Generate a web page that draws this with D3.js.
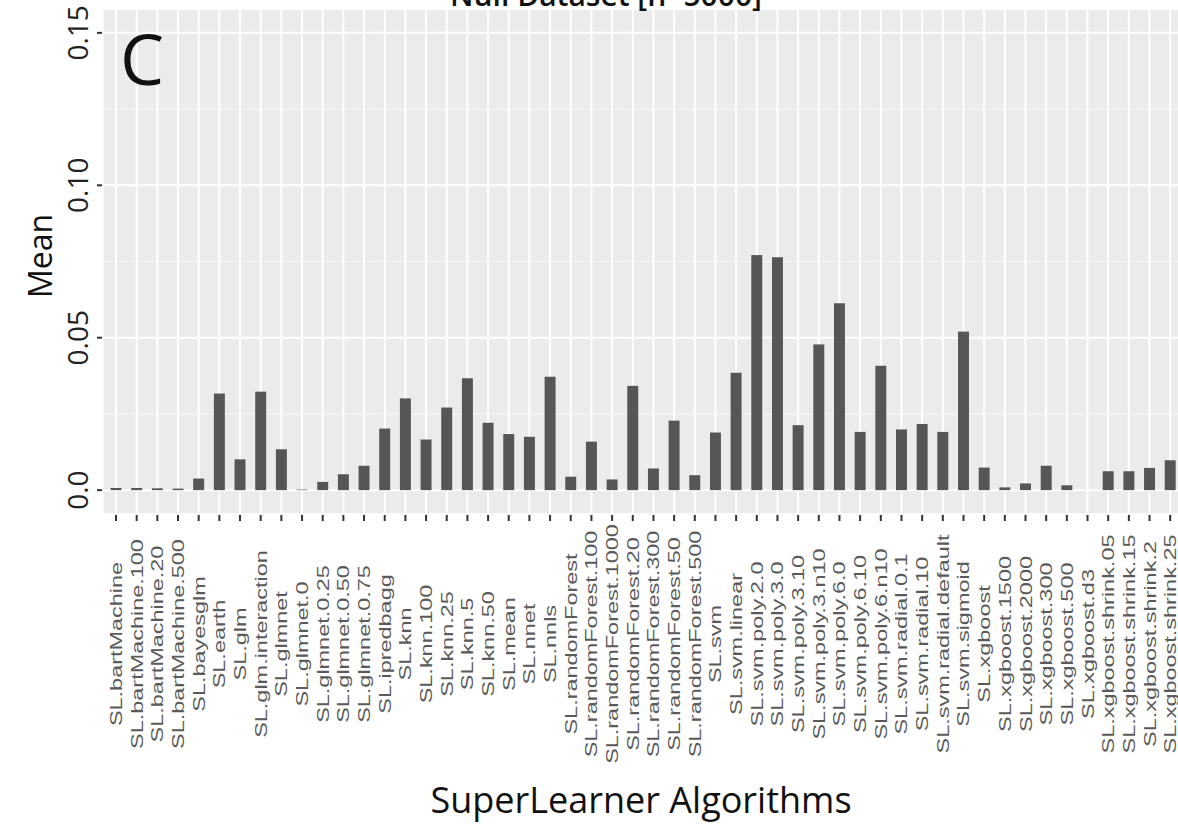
<!DOCTYPE html>
<html>
<head>
<meta charset="utf-8">
<script src="https://cdn.jsdelivr.net/npm/d3@7"></script>
<style>
  html, body { margin: 0; padding: 0; background: #ffffff; }
  svg { display: block; }
</style>
</head>
<body>
<svg id="chart" width="1178" height="825"></svg>
<script>
// Mean value per SuperLearner algorithm (Null dataset, n = 5000)
const algorithms = [
  "SL.bartMachine", "SL.bartMachine.100", "SL.bartMachine.20", "SL.bartMachine.500",
  "SL.bayesglm", "SL.earth", "SL.glm", "SL.glm.interaction", "SL.glmnet",
  "SL.glmnet.0", "SL.glmnet.0.25", "SL.glmnet.0.50", "SL.glmnet.0.75", "SL.ipredbagg",
  "SL.knn", "SL.knn.100", "SL.knn.25", "SL.knn.5", "SL.knn.50", "SL.mean", "SL.nnet",
  "SL.nnls", "SL.randomForest", "SL.randomForest.100", "SL.randomForest.1000",
  "SL.randomForest.20", "SL.randomForest.300", "SL.randomForest.50", "SL.randomForest.500",
  "SL.svm", "SL.svm.linear", "SL.svm.poly.2.0", "SL.svm.poly.3.0", "SL.svm.poly.3.10",
  "SL.svm.poly.3.n10", "SL.svm.poly.6.0", "SL.svm.poly.6.10", "SL.svm.poly.6.n10",
  "SL.svm.radial.0.1", "SL.svm.radial.10", "SL.svm.radial.default", "SL.svm.sigmoid",
  "SL.xgboost", "SL.xgboost.1500", "SL.xgboost.2000", "SL.xgboost.300", "SL.xgboost.500",
  "SL.xgboost.d3", "SL.xgboost.shrink.05", "SL.xgboost.shrink.15", "SL.xgboost.shrink.2",
  "SL.xgboost.shrink.25"
];

const meanValues = [
  0.0007, 0.0007, 0.0006, 0.0005,
  0.0038, 0.0317, 0.0101, 0.0323, 0.0134,
  0.0002, 0.0027, 0.0052, 0.0080, 0.0202,
  0.0301, 0.0166, 0.0271, 0.0367, 0.0221, 0.0184, 0.0175,
  0.0372, 0.0044, 0.0159, 0.0035,
  0.0342, 0.0071, 0.0228, 0.0049,
  0.0189, 0.0385, 0.0771, 0.0764, 0.0213,
  0.0478, 0.0613, 0.0191, 0.0408,
  0.0199, 0.0217, 0.0191, 0.0520,
  0.0074, 0.0009, 0.0022, 0.0080, 0.0016,
  0.0000, 0.0062, 0.0062, 0.0073,
  0.0098
];

const yTicks = [0.0, 0.05, 0.10, 0.15];
const yTickLabels = ["0.0", "0.05", "0.10", "0.15"];
const yMinorTicks = [0.025, 0.075, 0.125];

const titleText = "Null Dataset [n=5000]";
const panelTag = "C";
const xTitle = "SuperLearner Algorithms";
const yTitle = "Mean";

const data = algorithms.map((name, i) => ({ name, value: meanValues[i] }));

const svg = d3.select("#chart");

// panel geometry (extends slightly past the right edge of the canvas)
const panel = { left: 103.6, right: 1182.6, top: 10, bottom: 513 };

const x = d3.scaleBand()
  .domain(algorithms)
  .range([panel.left, panel.right])
  .paddingInner(0)
  .paddingOuter(0.1);

const y = d3.scaleLinear()
  .domain([-0.0075, 0.1575])
  .range([panel.bottom, panel.top]);

const cx = d => x(d) + x.bandwidth() / 2;
const barWidth = x.bandwidth() * 0.53;

// panel background
svg.append("rect")
  .attr("x", panel.left)
  .attr("y", panel.top)
  .attr("width", panel.right - panel.left)
  .attr("height", panel.bottom - panel.top)
  .attr("fill", "#ebebeb");

const grid = svg.append("g");

// minor horizontal gridlines
grid.selectAll("line.minor")
  .data(yMinorTicks)
  .join("line")
  .attr("class", "minor")
  .attr("x1", panel.left).attr("x2", panel.right)
  .attr("y1", d => y(d)).attr("y2", d => y(d))
  .attr("stroke", "#f6f6f6")
  .attr("stroke-width", 1.1);

// major horizontal gridlines
grid.selectAll("line.major")
  .data(yTicks)
  .join("line")
  .attr("class", "major")
  .attr("x1", panel.left).attr("x2", panel.right)
  .attr("y1", d => y(d)).attr("y2", d => y(d))
  .attr("stroke", "#ffffff")
  .attr("stroke-width", 2);

// vertical gridlines at each category
grid.selectAll("line.vert")
  .data(algorithms)
  .join("line")
  .attr("class", "vert")
  .attr("x1", d => cx(d)).attr("x2", d => cx(d))
  .attr("y1", panel.top).attr("y2", panel.bottom)
  .attr("stroke", "#ffffff")
  .attr("stroke-width", 2);

// bars
svg.append("g")
  .selectAll("rect")
  .data(data)
  .join("rect")
  .attr("x", d => cx(d.name) - barWidth / 2)
  .attr("width", barWidth)
  .attr("y", d => Math.min(y(d.value), y(0)))
  .attr("height", d => Math.abs(y(0) - y(d.value)))
  .attr("fill", "#565656");

// panel tag
svg.append("text")
  .attr("x", 120)
  .attr("y", 85)
  .attr("font-family", "'Open Sans', sans-serif")
  .attr("font-size", 70)
  .attr("fill", "#111")
  .text(panelTag);

// y axis ticks and labels
const yAxis = svg.append("g");
yAxis.selectAll("line")
  .data(yTicks)
  .join("line")
  .attr("x1", 97).attr("x2", 102)
  .attr("y1", d => y(d)).attr("y2", d => y(d))
  .attr("stroke", "#333")
  .attr("stroke-width", 2);
yAxis.selectAll("text")
  .data(yTicks)
  .join("text")
  .attr("transform", d => `translate(88,${y(d)}) rotate(-90)`)
  .attr("text-anchor", "middle")
  .attr("font-family", "'Open Sans', sans-serif")
  .attr("font-size", 28)
  .attr("fill", "#222")
  .text((d, i) => yTickLabels[i]);

// x axis ticks and labels
const xAxis = svg.append("g");
xAxis.selectAll("line")
  .data(algorithms)
  .join("line")
  .attr("x1", d => cx(d)).attr("x2", d => cx(d))
  .attr("y1", 515).attr("y2", 521)
  .attr("stroke", "#333")
  .attr("stroke-width", 2);
xAxis.selectAll("text")
  .data(algorithms)
  .join("text")
  .attr("transform", d => `translate(${cx(d) + 6},644) rotate(-90) scale(1.38,1)`)
  .attr("text-anchor", "middle")
  .attr("font-family", "'Liberation Sans', Arial, sans-serif")
  .attr("font-size", 17)
  .attr("fill", "#5a5a5a")
  .text(d => d);

// axis titles
svg.append("text")
  .attr("x", 641)
  .attr("y", 813)
  .attr("text-anchor", "middle")
  .attr("font-family", "'Open Sans', sans-serif")
  .attr("font-size", 36)
  .attr("fill", "#111")
  .text(xTitle);

svg.append("text")
  .attr("transform", `translate(52,256) rotate(-90)`)
  .attr("text-anchor", "middle")
  .attr("font-family", "'Open Sans', sans-serif")
  .attr("font-size", 32)
  .attr("fill", "#111")
  .text(yTitle);

// plot title (top edge runs off the canvas)
svg.append("text")
  .attr("x", 606)
  .attr("y", 6)
  .attr("text-anchor", "middle")
  .attr("font-family", "'Open Sans', sans-serif")
  .attr("font-weight", 600)
  .attr("font-size", 30)
  .attr("fill", "#111")
  .text(titleText);
</script>
</body>
</html>
